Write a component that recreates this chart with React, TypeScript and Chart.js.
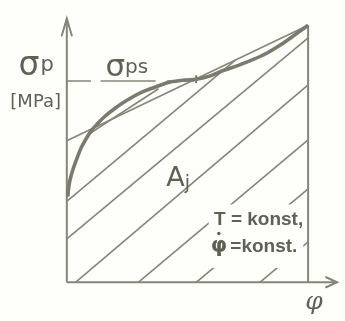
import React, { useEffect, useRef } from "react";
import { Chart, registerables } from "chart.js";

Chart.register(...registerables);

// Flow curve sigma_p(phi), in percent of the end point (phi = 100, sigma = 100)
const curvePhi = [0.4, 0.8, 1.6, 2.8, 4.4, 6.0, 8.0, 10.0, 12.8, 15.6, 19.6, 23.6, 27.6, 31.6, 36.8, 42.8, 48.8, 53.6, 58.8, 64.8, 70.8, 76.8, 82.8, 88.8, 94.0, 100];
const curveSigma = [33.3, 37.1, 40.8, 44.6, 48.7, 52.4, 55.8, 58.8, 61.8, 64.4, 67.4, 70.0, 72.3, 74.2, 76.0, 77.9, 78.7, 79.0, 80.1, 82.4, 84.3, 86.5, 89.1, 92.5, 95.9, 100];

// Straight secant from the sigma axis to the end point
const secantPhi = [0, 100];
const secantSigma = [55.1, 100];

// Saturation level sigma_ps and its dashed guide (phi ranges of each dash)
const sigmaPs = 78.3;
const dashFrom = [0, 14, 41.6];
const dashTo = [10, 36.8, 52.8];

// Point where the curve reaches sigma_ps
const markPhi = [53.6];
const markSigma = [79.0];

// Hatching of the work area A_j: start and end of each stroke
const hatchFrom = [[80, 0], [53.6, 0], [29.6, 0], [3.6, 0], [0, 16.9], [0, 31.5], [9.2, 57.7]];
const hatchTo = [[100, 15.7], [100, 36.3], [100, 55.4], [100, 76.8], [100, 95.1], [70, 86.5], [38, 75.3]];

// Frame: end of the deformation range and axis extents
const phiEnd = 100;
const phiAxisEnd = 112;
const sigmaAxisEnd = 102.6;

const INK = "#86857a";
const TEXT = "#606055";
const PAPER = "#fefefb";

const pts = (xs: number[], ys: number[]) => xs.map((x, i) => ({ x, y: ys[i] }));

const line = (data: any[], width: number, color = INK, extra: any = {}) => ({
  data,
  showLine: true,
  borderColor: color,
  borderWidth: width,
  pointRadius: 0,
  fill: false,
  tension: 0,
  ...extra,
});

const sketchPlugin = {
  id: "sketch",
  beforeDraw(chart: any) {
    const { ctx, width, height } = chart;
    ctx.save();
    ctx.fillStyle = PAPER;
    ctx.fillRect(0, 0, width, height);
    ctx.restore();
  },
  afterDatasetsDraw(chart: any) {
    const { ctx } = chart;
    const X = (v: number) => chart.scales.x.getPixelForValue(v);
    const Y = (v: number) => chart.scales.y.getPixelForValue(v);
    ctx.save();

    // clear the hatching behind the conditions note
    ctx.fillStyle = PAPER;
    ctx.fillRect(X(58.8), Y(30.3), X(98) - X(58.8), Y(5.6) - Y(30.3));

    // open arrow heads on both axes
    ctx.strokeStyle = INK;
    ctx.lineWidth = 2;
    ctx.lineCap = "round";
    const yt = { x: X(0), y: Y(sigmaAxisEnd) };
    ctx.beginPath();
    ctx.moveTo(yt.x - 5, yt.y + 17);
    ctx.lineTo(yt.x, yt.y);
    ctx.lineTo(yt.x + 5, yt.y + 17);
    ctx.stroke();
    const xt = { x: X(phiAxisEnd), y: Y(0) };
    ctx.beginPath();
    ctx.moveTo(xt.x - 11, xt.y - 5);
    ctx.lineTo(xt.x, xt.y);
    ctx.lineTo(xt.x - 11, xt.y + 5);
    ctx.stroke();

    ctx.fillStyle = TEXT;
    ctx.textBaseline = "alphabetic";
    ctx.textAlign = "left";
    const txt = (s: string, x: number, y: number, font: string) => {
      ctx.font = font;
      ctx.fillText(s, x, y);
      return ctx.measureText(s).width;
    };

    // sigma_p [MPa]
    let w = txt("σ", X(-20), Y(80.5), "33px 'DejaVu Sans'");
    txt("p", X(-20) + w + 1, Y(80.5) - 4, "21px 'DejaVu Sans'");
    txt("[MPa]", X(-23.4), Y(68.3), "18px 'DejaVu Sans'");

    // sigma_ps
    w = txt("σ", X(16), Y(80.1), "31px 'DejaVu Sans'");
    txt("ps", X(16) + w, Y(80.1) - 3, "20px 'DejaVu Sans'");

    // A_j
    w = txt("A", X(41.2), Y(37.4), "27px 'DejaVu Sans'");
    txt("j", X(41.2) + w, Y(37.4) + 3, "19px 'DejaVu Sans'");

    // conditions
    txt("T = konst,", X(61), Y(22.1), "bold 19px 'Liberation Sans'");
    const px = X(59.6);
    const base = Y(11.6);
    const pw = txt("φ", px, base, "bold 21px 'DejaVu Sans'");
    ctx.beginPath();
    ctx.arc(px + pw / 2, base - 19, 1.7, 0, Math.PI * 2);
    ctx.fill();
    txt(" =konst.", px + pw - 2, base, "bold 19px 'Liberation Sans'");

    // phi axis label
    txt("φ", X(98.8), Y(-10.5), "italic 25px 'DejaVu Serif'");
    ctx.restore();
  },
};

export default function App() {
  const ref = useRef<HTMLCanvasElement>(null);

  useEffect(() => {
    if (!ref.current) return;
    const dashData: any[] = [];
    dashFrom.forEach((a, i) => {
      dashData.push({ x: a, y: sigmaPs }, { x: dashTo[i], y: sigmaPs }, { x: dashTo[i] + 0.1, y: null });
    });
    const hatch = hatchFrom.map((p, i) =>
      line([{ x: p[0], y: p[1] }, { x: hatchTo[i][0], y: hatchTo[i][1] }], 1.6)
    );

    const chart = new Chart(ref.current, {
      type: "scatter",
      data: {
        datasets: [
          line(pts(curvePhi, curveSigma), 3.6, "#7c7a6f", { cubicInterpolationMode: "monotone" }),
          {
            data: pts(markPhi, markSigma),
            pointStyle: "line",
            rotation: 90,
            pointRadius: 4,
            borderWidth: 2,
            borderColor: "#7c7a6f",
            showLine: false,
          },
          line(pts(secantPhi, secantSigma), 1.6),
          line(dashData, 1.6, INK, { spanGaps: false }),
          ...hatch,
          line(pts([0, 0], [0, sigmaAxisEnd]), 2),
          line(pts([0, phiAxisEnd], [0, 0]), 2),
          line(pts([phiEnd, phiEnd], [0, 100]), 2),
        ] as any,
      },
      options: {
        animation: false,
        responsive: false,
        layout: { padding: 0 },
        plugins: { legend: { display: false }, tooltip: { enabled: false } },
        scales: {
          x: { type: "linear", min: -25.2, max: 112.8, display: false },
          y: { type: "linear", min: -12.73, max: 107.49, display: false },
        },
      },
      plugins: [sketchPlugin],
    });
    return () => chart.destroy();
  }, []);

  return (
    <div style={{ position: "fixed", left: 0, top: 0, width: 345, height: 321 }}>
      <canvas ref={ref} width={345} height={321} style={{ display: "block" }} />
    </div>
  );
}
